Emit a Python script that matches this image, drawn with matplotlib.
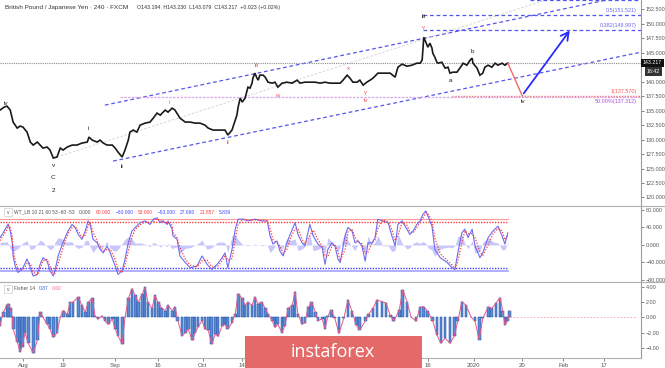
import numpy as np
import matplotlib
matplotlib.use("Agg")
import matplotlib.pyplot as plt
from matplotlib.patches import Rectangle
from matplotlib.lines import Line2D

plt.rcParams['font.family'] = ['Liberation Sans', 'DejaVu Sans']

# ---------------- data ----------------
# x = trading-day index (0 = 1 Aug 2019)
price_x = [-5.4,-4.4,-3.7,-2.9,-2.2,-1.2,-0.5,0.2,1.2,2.0,
           2.7,3.7,4.4,5.1,6.1,6.8,7.6,8.5,9.3,10.0,
           11.0,12.2,13.4,14.6,15.9,16.3,17.1,18.3,19.0,19.8,
           20.7,22.0,22.7,23.4,24.4,25.1,25.9,26.3,27.1,28.0,
           28.8,30.0,31.2,32.0,32.9,33.7,34.9,35.6,36.6,37.3,
           38.5,39.8,41.0,42.2,43.4,44.6,45.4,46.6,47.8,48.8,
           49.5,50.2,51.2,52.0,52.4,52.7,53.2,53.7,54.4,55.1,
           55.6,56.1,56.3,56.8,57.3,57.6,58.0,58.8,59.3,60.0,
           61.0,61.7,62.4,63.4,64.6,65.9,67.1,67.8,69.0,70.2,
           71.5,72.7,73.9,75.1,76.3,77.6,78.3,79.3,80.0,80.7,
           81.7,82.4,83.2,84.1,84.9,85.6,86.8,88.0,89.0,89.8,
           91.0,91.7,92.7,93.9,95.1,96.3,97.1,97.6,98.0,98.5,
           99.0,99.5,100.0,100.2,100.7,101.2,101.5,102.4,103.2,103.9,
           104.4,105.1,106.1,106.8,107.6,108.5,109.3,109.8,110.0,111.0,
           111.7,112.4,112.9,113.7,114.6,115.4,116.1,117.1,117.8,118.5]
price_y = [135.09,135.60,135.78,135.09,133.02,131.98,132.33,132.16,131.29,129.57,
           129.05,129.57,129.05,128.53,128.71,128.19,126.81,126.98,128.53,128.19,
           128.71,129.05,129.05,129.40,129.57,130.43,129.91,129.57,129.91,129.40,
           129.05,129.05,128.53,127.84,126.98,128.19,129.91,131.29,131.64,131.29,
           132.50,132.84,133.02,133.71,134.57,134.22,135.09,134.74,135.43,135.09,
           133.71,133.02,133.02,132.84,132.84,132.50,131.98,131.64,131.64,131.64,
           131.64,130.78,131.64,133.36,134.22,135.60,137.16,136.47,137.16,139.05,
           138.88,139.74,140.60,141.47,140.60,140.26,141.12,141.12,140.78,139.91,
           139.74,139.91,139.05,139.74,139.91,139.74,140.26,139.74,139.91,139.91,
           139.91,139.74,139.91,139.74,139.74,139.74,140.26,141.12,140.60,139.91,
           139.91,140.26,139.40,139.91,140.26,140.60,141.47,141.47,141.47,141.47,
           140.78,142.50,143.02,142.67,142.84,143.19,143.19,143.71,147.67,146.81,
           145.95,146.64,145.78,144.91,144.22,143.36,143.19,143.36,142.33,142.50,
           141.47,141.64,141.64,142.33,143.19,142.84,143.71,144.05,143.19,142.33,
           141.12,141.47,142.50,142.84,142.50,143.19,142.84,143.19,142.84,143.22]
last_price = 143.217

wt_x = [-5.4,-4.6,-3.7,-3.4,-2.9,-2.4,-2.2,-1.7,-1.0,0.2,
        1.2,2.0,2.7,3.7,4.4,5.1,6.1,6.8,7.6,8.0,
        8.8,9.8,10.5,11.2,12.2,12.9,13.7,14.6,15.4,16.1,
        16.6,17.3,18.3,19.0,19.8,20.7,21.5,22.7,23.4,24.4,
        25.1,25.9,26.8,27.6,28.8,30.0,31.2,32.0,32.9,33.7,
        34.4,35.4,35.6,36.6,36.8,37.8,38.5,39.8,41.0,42.7,
        43.9,45.1,46.3,47.6,48.8,49.5,50.2,51.2,52.0,52.7,
        53.9,55.1,56.8,58.5,59.8,60.5,61.2,62.2,62.9,63.7,
        64.6,65.4,66.6,67.3,68.3,69.0,70.2,71.0,72.2,73.2,
        73.9,74.6,75.6,76.3,77.1,77.6,78.8,79.5,80.5,81.2,
        82.0,82.9,83.7,84.4,85.4,86.1,86.8,88.0,89.3,90.2,
        91.0,91.7,92.7,93.9,94.6,95.4,96.3,97.1,97.8,98.5,
        99.0,100.0,100.7,102.0,103.7,104.9,105.6,106.3,107.3,108.0,
        108.8,109.8,110.5,111.7,112.4,113.7,114.9,116.1,117.1,117.8,
        118.5]
wt1 = [17,28,43,48,32,5,-25,-48,-63,-52,
       -32,-52,-71,-67,-44,-29,-37,-59,-71,-59,
       -25,2,17,32,47,40,24,13,32,55,
       47,13,5,-10,-18,-2,-18,-48,-67,-59,
       -33,5,32,40,51,55,47,59,62,51,
       55,47,55,36,21,13,-25,-40,-52,-48,
       -25,-44,-56,-44,-29,-18,-52,-10,36,59,
       59,55,59,55,55,21,2,9,-14,-25,
       5,24,51,24,5,-2,47,21,2,-6,
       -44,-10,5,-2,-33,-40,21,40,32,5,
       9,-2,-37,5,5,17,59,55,51,21,
       -2,47,55,36,24,32,47,55,70,78,
       66,43,-10,-29,-40,-52,-56,-18,28,36,
       17,36,-2,-29,-18,17,32,43,21,2,
       27.696]
wt2 = [10,22,35,45,40,18,-10,-36,-55,-57,
       -42,-42,-62,-69,-55,-36,-33,-48,-65,-65,
       -42,-12,10,25,40,43,32,18,22,44,
       51,30,9,-2,-14,-10,-10,-33,-57,-63,
       -46,-14,18,36,46,53,51,53,60,56,
       53,51,51,45,28,17,-6,-32,-46,-50,
       -36,-34,-50,-50,-36,-23,-35,-31,13,47,
       59,57,57,57,55,38,12,5,-3,-19,
       -10,14,37,37,14,1,22,34,12,-2,
       -25,-27,-2,1,-17,-36,-10,30,36,18,
       7,3,-20,-16,5,11,38,57,53,36,
       10,22,51,45,30,28,40,51,62,74,
       72,55,16,-20,-35,-46,-54,-37,5,32,
       26,26,17,-16,-24,0,25,38,32,12,
       21.857]
wt_levels = [60, 53, -53, -60]

fish_x = [-5.4,-4.6,-3.7,-3.4,-2.9,-2.4,-2.2,-1.2,-0.5,0.0,
          0.7,1.5,2.7,3.7,4.4,5.1,6.1,6.8,7.6,8.5,
          9.3,10.0,11.0,11.7,12.4,13.7,14.6,15.4,16.1,17.1,
          17.8,18.5,19.5,20.2,21.0,22.0,22.7,23.4,24.4,25.1,
          25.9,26.8,27.6,28.3,29.3,30.0,30.7,31.7,32.4,33.2,
          34.1,34.9,35.6,36.6,37.3,38.0,39.0,39.8,40.5,41.5,
          42.2,42.9,43.9,44.6,45.4,46.3,47.1,47.8,48.8,49.5,
          50.2,51.2,52.0,52.7,53.7,54.4,55.1,56.1,56.8,57.6,
          58.5,59.3,60.0,61.0,61.7,62.4,63.4,64.1,64.9,65.9,
          66.6,67.3,68.3,69.0,69.8,70.7,71.5,72.2,73.2,73.9,
          74.6,75.4,76.3,77.3,78.5,79.5,80.5,81.5,82.4,83.7,
          84.6,85.6,86.6,87.8,88.8,89.8,90.7,92.0,92.9,93.9,
          94.9,96.1,97.1,98.0,99.0,100.2,101.2,102.2,103.2,104.4,
          105.4,106.3,107.3,108.3,109.5,110.5,111.5,112.4,113.7,114.6,
          115.6,116.6,117.3,117.8,118.5,119.0]
fisher = [-1.1,0.7,1.6,1.8,1.2,0,-1.5,-3.2,-4.5,-3.9,
          -2.0,-3.4,-4.7,-3.0,0.7,0,-0.9,-1.5,-2.6,-2.0,
          0,0.9,0.4,2.0,2.0,2.7,1.6,0.7,2.0,2.5,
          0.2,-0.2,0.2,-0.4,-0.9,-0.2,-1.5,-2.4,-3.5,0,
          2.5,3.8,2.9,2.0,3.1,4.0,2.0,1.2,2.9,2.0,
          1.2,0.9,1.6,0.9,1.4,-0.4,-2.4,-2.0,-1.5,-3.0,
          -2.0,-1.3,-0.4,-1.5,-1.7,-3.5,-2.2,-2.5,-1.1,-0.9,
          -1.5,-0.7,0.5,3.1,2.5,1.6,2.0,1.6,2.7,1.8,
          2.0,1.2,0.5,-0.4,-1.3,-0.9,-2.0,-1.1,1.2,1.6,
          3.4,0.5,-0.9,-0.7,1.4,2.0,0.7,-0.4,-0.2,-1.5,
          0.2,1.0,-0.1,-2.1,-0.1,2.3,0.8,-1.0,-1.6,-0.5,
          0.5,1.2,2.3,2.1,1.9,0.3,-0.5,1.0,3.6,2.1,
          0.1,-0.5,1.4,1.4,0.8,-0.5,-2.3,-3.4,-2.7,-3.4,
          -2.5,-0.5,2.1,1.6,0.1,-0.5,-2.9,-0.1,1.4,1.2,
          1.9,2.6,0.8,-1.0,-0.4,0.87]

tick_pos = [0.2, 10.0, 22.7, 33.2, 44.1, 53.7, 64.0, 74.0, 85.0, 99.0, 110.2, 122.0, 132.0, 142.0]
tick_labels = ['Aug', '19', 'Sep', '16', 'Oct', '14', 'Nov', '11', 'Dec', '16', '2020', '20', 'Feb', '17']

# analysis drawings (Elliott wave / fib / channel)
chan_upper_x, chan_upper_y = [20.2, 142.2], [135.95, 154.05]
chan_lower_x, chan_lower_y = [22.2, 151.0], [126.29, 145.09]
guide_x, guide_y = [8.5, 127.6], [126.98, 154.05]
fib_levels = [154.045, 151.521, 148.997]
fib_labels = ['', '0.5(151.521)', '0.382(148.997)']
fib_start = [123.8, 97.8, 97.8]
tgt_red, tgt_red_label = 137.570, '1(137.570)'
tgt_pct, tgt_pct_label = 137.312, '50.00%(137.312)'
proj_red_x, proj_red_y = [118.5, 122.0], [143.22, 137.6]
proj_arrow_x, proj_arrow_y = [122.0, 134.0], [137.6, 149.2]

labels_black = [("iv", -3.9, 136.29), ("v", 7.56, 125.60), ("C", 7.56, 123.53), ("2", 7.56, 121.29),
                ("i", 16.1, 131.98), ("ii", 24.4, 125.43), ("iii", 98.0, 151.29),
                ("a", 104.4, 140.26), ("b", 109.8, 145.26), ("iv", 122.2, 136.64)]
labels_red = [("v", 98.0, 149.40), ("iii", 57.3, 142.84), ("w", 62.2, 137.67), ("x", 79.5, 142.33),
              ("y", 83.7, 138.19), ("iv", 83.9, 136.81), ("i", 35.9, 136.47), ("ii", 50.2, 129.57)]

# ---------------- figure ----------------
W, H = 665, 368
fig = plt.figure(figsize=(W/100, H/100), dpi=100)
fig.patch.set_facecolor('white')

def fy(py):
    return 1 - py / H

axw = 641 / W
ax = fig.add_axes([0, fy(206), axw, 206 / H])
ax2 = fig.add_axes([0, fy(282), axw, 76 / H])
ax3 = fig.add_axes([0, fy(358), axw, 76 / H])

XL = (-5.4, 151.0)
for a in (ax, ax2, ax3):
    a.set_xlim(*XL)
    a.set_facecolor('white')
    for s in ('left', 'top'):
        a.spines[s].set_visible(False)
    a.spines['right'].set_color('#9a9a9a')
    a.spines['right'].set_linewidth(0.8)
    a.spines['bottom'].set_color('#b0b0b0')
    a.spines['bottom'].set_linewidth(0.8)
    a.yaxis.tick_right()
    a.tick_params(axis='y', labelsize=3.9, colors='#555555', length=2, width=0.5, pad=1.5)
    a.tick_params(axis='x', bottom=False, labelbottom=False)

# ---- main price panel ----
ax.set_ylim(118.53, 154.1)
yt = [v for v in np.arange(120, 153, 2.5) if abs(v - 142.5) > 0.01]
ax.set_yticks(yt)
ax.set_yticklabels([f"{v:.3f}" for v in yt])

blue_d = '#5555ee'
ax.plot(chan_upper_x, chan_upper_y, color=blue_d, lw=0.9, ls=(0, (3, 2.2)))
ax.plot(chan_lower_x, chan_lower_y, color=blue_d, lw=0.9, ls=(0, (3, 2.2)))
ax.plot(guide_x, guide_y, color='#d0d0d0', lw=0.6, ls=(0, (3, 2)))
for lv, lb, xs in zip(fib_levels, fib_labels, fib_start):
    ax.plot([xs, XL[1]], [lv, lv], color=blue_d, lw=0.9, ls=(0, (3, 2.2)))
    if lb:
        ax.text(150.0, lv + 0.35, lb, color='#6a6af0', fontsize=3.9, ha='right', va='bottom')
ax.plot([23.9, XL[1]], [tgt_pct, tgt_pct], color='#dca6ee', lw=0.9, ls=(0, (2, 1)))
ax.plot([104.9, XL[1]], [tgt_red, tgt_red], color='#f07a7a', lw=1.0, ls=(0, (1, 1)))
ax.text(150.0, tgt_red + 0.25, tgt_red_label, color='#f05a5a', fontsize=3.9, ha='right', va='bottom')
ax.text(150.0, tgt_pct - 0.25, tgt_pct_label, color='#b04ae0', fontsize=3.9, ha='right', va='top')

ax.axhline(last_price, color='#8c8c8c', lw=0.8, ls=(0, (1, 1)))
ax.plot(price_x, price_y, color='#1a1a1a', lw=1.2, solid_joinstyle='miter')
ax.plot(proj_red_x, proj_red_y, color='#f06a6a', lw=1.0)
ax.annotate('', xy=(proj_arrow_x[1], proj_arrow_y[1]), xytext=(proj_arrow_x[0], proj_arrow_y[0]),
            arrowprops=dict(arrowstyle='->,head_length=0.55,head_width=0.3', color='#2a2aff', lw=1.3))

for t, x, y in labels_black:
    ax.text(x, y, t, color='#222222', fontsize=4.6, ha='center', va='center')
for t, x, y in labels_red:
    ax.text(x, y, t, color='#f05050', fontsize=4.3, ha='center', va='center')

# ---- WT panel ----
ax2.set_ylim(-84.6, 89.1)
wtt = [80, 40, 0, -40, -80]
ax2.set_yticks(wtt)
ax2.set_yticklabels([f"{v:.3f}".replace('-', '\u2212') for v in wtt])
diff = np.array(wt1) - np.array(wt2)
ax2.fill_between(wt_x, diff, 0, color='#a3a3f7', alpha=0.6, lw=0)
x0, x1 = wt_x[0], wt_x[-1]
ax2.plot([x0, x1], [wt_levels[0]] * 2, color='#ff9a9a', lw=0.8)
ax2.plot([x0, x1], [wt_levels[1]] * 2, color='#ff3c3c', lw=1.0, ls=(0, (1, 1)))
ax2.plot([x0, x1], [wt_levels[2]] * 2, color='#3c3cff', lw=1.0, ls=(0, (1, 1)))
ax2.plot([x0, x1], [wt_levels[3]] * 2, color='#a9a9ff', lw=1.3)
ax2.plot(wt_x, wt1, color='#6b6bf5', lw=0.8)
ax2.plot(wt_x, wt2, color='#ff3b3b', lw=0.9, ls=(0, (1, 1.3)))

# ---- Fisher panel ----
ax3.set_ylim(-5.33, 4.67)
ft = [4, 2, 0, -2, -4]
ax3.set_yticks(ft)
ax3.set_yticklabels([f"{v:.2f}".replace('-', '\u2212') for v in ft])
ax3.bar(fish_x, fisher, width=0.68, color='#5b8bd4', edgecolor='#1f4f9f', linewidth=0.35)
ax3.plot(fish_x, fisher, color='#e8588c', lw=0.7)
ax3.plot([fish_x[-1], 150.0], [0, 0], color='#f5a3a3', lw=0.6, ls=(0, (2, 2)))
ax3.set_xticks(tick_pos)
ax3.set_xticklabels(tick_labels)
ax3.tick_params(axis='x', bottom=True, labelbottom=True, labelsize=4.3, colors='#555555',
                length=2, width=0.5, pad=1.5)

# ---- figure-level decorations ----
for py in (206, 282):
    fig.add_artist(Line2D([0, 1], [fy(py), fy(py)], color='#b0b0b0', lw=0.8))

fig.text(5 / W, fy(7.5), "British Pound / Japanese Yen \u00b7 240 \u00b7 FXCM", fontsize=4.6,
         color='#333333', va='center')
fig.text(137 / W, fy(7.5), "O143.194  H143.230  L143.079  C143.217  +0.023 (+0.02%)", fontsize=3.8,
         color='#333333', va='center')

fig.text(643 / W, fy(63), "143.217", fontsize=3.8, color='white', va='center',
         bbox=dict(boxstyle='square,pad=0.35', fc='#111111', ec='none'))
fig.text(647 / W, fy(71.5), "16:42", fontsize=3.8, color='white', va='center',
         bbox=dict(boxstyle='square,pad=0.35', fc='#333333', ec='none'))

# indicator legends
for py in (212, 289):
    fig.add_artist(Rectangle((4 / W, fy(py + 4)), 8 / W, 8 / H, transform=fig.transFigure,
                             fc='white', ec='#cccccc', lw=0.5))
    fig.text(8 / W, fy(py + 0.5), "v", fontsize=3.5, color='#555555', ha='center', va='center')

renderer = fig.canvas.get_renderer()

def seq_text(parts, x_px, y_px, fs, gap_px):
    for t, c in parts:
        tx = fig.text(x_px / W, fy(y_px), t, fontsize=fs, color=c, va='center')
        x_px += tx.get_window_extent(renderer=renderer).width + gap_px

leg_wt = [("WT_LB 10 21 60 53 -60 -53", '#555555'), ("0.000", '#555555'), ("60.000", '#ff4040'),
          ("\u221260.000", '#4a4aff'), ("53.000", '#ff4040'), ("\u221253.000", '#4a4aff'),
          ("27.696", '#4a4aff'), ("21.857", '#ff4040'), ("5.839", '#4a4aff')]
seq_text(leg_wt, 14, 212, 3.5, 4.5)
leg_f = [("Fisher 14", '#555555'), ("0.87", '#3a6ad0'), ("0.60", '#f07090')]
seq_text(leg_f, 14, 289, 3.6, 3.5)

# watermark logo
fig.add_artist(Rectangle((245 / W, 0), 177 / W, 32 / H, transform=fig.transFigure,
                         fc='#e46a6a', ec='none', zorder=10))
fig.text(333 / W, fy(352), "instaforex", fontsize=13, color='white', ha='center', va='center',
         family=['Open Sans', 'DejaVu Sans'], zorder=11)

fig.savefig('out.png', dpi=100, facecolor='white')
